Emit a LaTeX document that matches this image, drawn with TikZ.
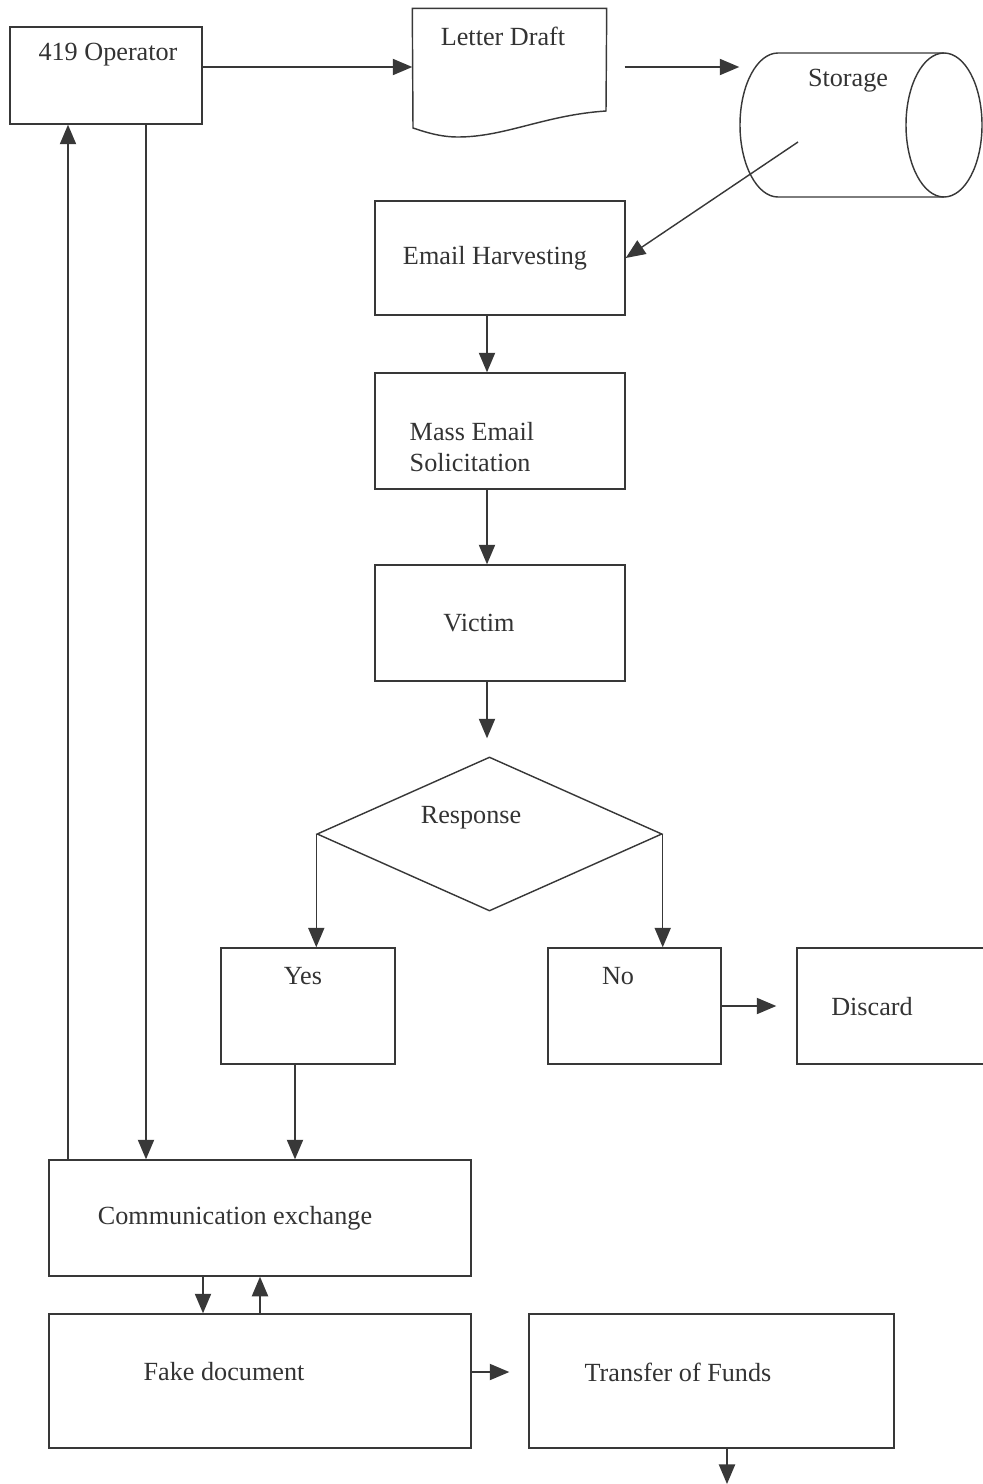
\documentclass[tikz,border=0pt]{standalone}
\usepackage{fontspec}
\setmainfont{Liberation Serif}
\usetikzlibrary{positioning,shapes.geometric,arrows.meta}

\begin{document}
\begin{tikzpicture}[%
    x=0.42pt,
    y=-0.42pt,
    ->,
    >={Triangle[length=8.2pt,width=6.8pt]},
    line width=0.6pt,
    color=black!78,
    font=\fontsize{11}{13.4}\selectfont,
    stepbox/.style 2 args={%
      rectangle,
      draw,
      minimum width=#1*0.42pt,
      minimum height=#2*0.42pt,
      inner sep=0pt
    },
    lbl/.style={%
      inner sep=0pt,
      text=black!80
    }
  ]
    \useasboundingbox (0,0) rectangle (982,1484);

    % boxes
    \node[stepbox={192}{97}]  (op)   at (106,75.5)   {};
    \node[minimum width=193*0.42pt, minimum height=128*0.42pt, inner sep=0pt] (draft) at (509.5,73) {};
    \node[minimum width=242*0.42pt, minimum height=144*0.42pt, inner sep=0pt] (st) at (861,125) {};
    \node[stepbox={250}{114}] (harv) at (500,258)    {};
    \node[stepbox={250}{116}] (mass) at (500,431)    {};
    \node[stepbox={250}{116}] (vic)  at (500,623)    {};
    \node[diamond, draw, aspect=2.24, inner sep=0pt,
          minimum width=345*0.42pt, minimum height=154*0.42pt] (resp) at (489.5,834) {};
    \node[stepbox={174}{116}] (yes)  at (308,1006)   {};
    \node[stepbox={173}{116}] (no)   at (634.5,1006) {};
    \node[stepbox={193}{116}] (disc) at (893.5,1006) {};
    \node[stepbox={422}{116}] (comm) at (260,1218)   {};
    \node[stepbox={422}{134}] (fake) at (260,1381)   {};
    \node[stepbox={365}{134}] (tf)   at (711.5,1381) {};

    % letter outline
    \draw[-] (draft.north west) -- (draft.north east) -- (606,111)
          .. controls (545,115) and (505,137) .. (458,137)
          .. controls (440,137) and (425,132) .. (413,128) -- cycle;

    % storage drum
    \draw[-] (944,53) -- (778,53)
          arc[start angle=-90, end angle=-270, x radius=38, y radius=72]
          -- (944,197);
    \draw[-] (944,125) ellipse [x radius=38, y radius=72];

    % texts
    \node[lbl] (opT)   at (108,55)   {419 Operator};
    \node[lbl] (draftT) at (503,36)  {Letter Draft};
    \node[lbl] (stT)   at (848,81)   {Storage};
    \node[lbl] (harvT) at (495,258)  {Email Harvesting};
    \node[lbl, anchor=west, align=left] (massT) at (409,447) {Mass Email\\Solicitation};
    \node[lbl] (vicT)  at (479,623)  {Victim};
    \node[lbl] (respT) at (471,818)  {Response};
    \node[lbl] (yesT)  at (303,976)  {Yes};
    \node[lbl] (noT)   at (618,976)  {No};
    \node[lbl] (discT) at (872,1007) {Discard};
    \node[lbl] (commT) at (235,1218) {Communication exchange};
    \node[lbl] (fakeT) at (224,1372) {Fake document};
    \node[lbl] (tfT)   at (678,1372) {Transfer of Funds};

    \coordinate (stout) at (798,142);
    \coordinate (out)   at (727,1484);

    \path (op.east |- 0,67) edge (draft.west |- 0,67)
          (draft.east |- 0,67) edge [shorten <=18*0.42pt] (st.west |- 0,67)
          (stout) edge (harv.east)
          (487,0 |- harv.south) edge (487,0 |- mass.north)
          (487,0 |- mass.south) edge (487,0 |- vic.north)
          (487,0 |- vic.south) edge [shorten >=18*0.42pt] (487,0 |- resp.north)
          (resp.west) edge (resp.west |- yes.north)
          (resp.east) edge (resp.east |- no.north)
          (no.east) edge [shorten >=20*0.42pt] (disc.west)
          (295,0 |- yes.south) edge (295,0 |- comm.north)
          (146,0 |- op.south) edge (146,0 |- comm.north)
          (68,0 |- comm.north) edge (68,0 |- op.south)
          (203,0 |- comm.south) edge (203,0 |- fake.north)
          (260,0 |- fake.north) edge (260,0 |- comm.south)
          (fake.east |- 0,1372) edge [shorten >=19*0.42pt] (tf.west |- 0,1372)
          (727,0 |- tf.south) edge (out)
          ;
\end{tikzpicture}
\end{document}
